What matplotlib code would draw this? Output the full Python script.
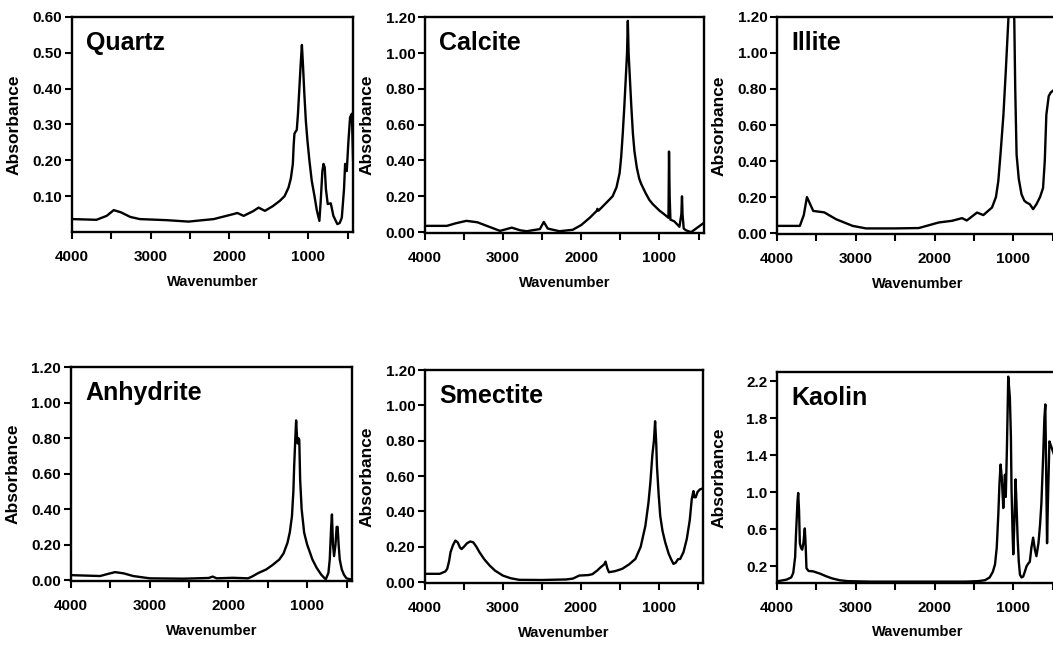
import matplotlib
matplotlib.use("Agg")
import matplotlib.pyplot as plt

plt.rcParams['font.family'] = ['Liberation Sans', 'DejaVu Sans']
plt.rcParams['font.weight'] = 'bold'

quartz_wn = [4000, 3690, 3560, 3470, 3380, 3260, 3140, 2800, 2520, 2200, 1950, 1900, 1820,
             1700, 1630, 1550, 1450, 1360, 1300, 1250, 1220, 1195, 1185, 1175, 1160, 1145,
             1130, 1115, 1095, 1080, 1065, 1050, 1030, 1010, 985, 955, 920, 890, 858, 840,
             820, 805, 790, 775, 752, 713, 680, 630, 600, 573, 545, 531, 510, 490, 468, 445, 430]
quartz_abs = [0.036, 0.034, 0.045, 0.061, 0.055, 0.042, 0.036, 0.033, 0.029, 0.036, 0.05, 0.053, 0.045,
              0.058, 0.068, 0.059, 0.072, 0.087, 0.1, 0.124, 0.15, 0.19, 0.24, 0.274, 0.28, 0.285,
              0.33, 0.39, 0.47, 0.522, 0.46, 0.39, 0.31, 0.256, 0.2, 0.143, 0.1, 0.06, 0.031, 0.09,
              0.17, 0.19, 0.18, 0.12, 0.078, 0.08, 0.045, 0.022, 0.025, 0.04, 0.12, 0.19, 0.17, 0.25,
              0.32, 0.33, 0.2]

calcite_wn = [4000, 3720, 3600, 3470, 3330, 3210, 3040, 2890, 2780, 2700, 2530, 2480, 2430,
              2280, 2110, 2000, 1890, 1800, 1795, 1780, 1700, 1600, 1550, 1510, 1490, 1470,
              1450, 1430, 1415, 1405, 1395, 1380, 1360, 1340, 1320, 1290, 1260, 1235, 1180,
              1130, 1085, 1000, 940, 885, 878, 870, 860, 810, 745, 720, 712, 705, 690, 660,
              595, 500, 438]
calcite_abs = [0.035, 0.035, 0.05, 0.063, 0.055, 0.035, 0.007, 0.025, 0.01, 0.005, 0.017, 0.057, 0.02,
               0.005, 0.013, 0.04, 0.081, 0.12, 0.13, 0.12, 0.155, 0.2, 0.25, 0.33, 0.42, 0.55,
               0.7, 0.87, 1.0, 1.18, 1.0, 0.87, 0.7, 0.55, 0.45, 0.36, 0.3, 0.27, 0.22,
               0.18, 0.156, 0.12, 0.1, 0.08, 0.45, 0.2, 0.07, 0.06, 0.03, 0.1, 0.2, 0.1, 0.02, 0.01,
               0.0, 0.03, 0.05]

illite_wn = [4000, 3710, 3660, 3620, 3540, 3400, 3250, 3040, 2870, 2500, 2200, 1945, 1780,
             1650, 1590, 1460, 1380, 1270, 1220, 1190, 1160, 1125, 1095, 1063, 1040, 1000,
             987, 975, 958, 930, 895, 860, 832, 790, 748, 706, 660, 622, 600, 580, 550, 525,
             470, 430]
illite_abs = [0.04, 0.04, 0.1, 0.2, 0.123, 0.115, 0.077, 0.04, 0.026, 0.026, 0.028, 0.059, 0.068,
              0.083, 0.07, 0.114, 0.1, 0.142, 0.2, 0.289, 0.45, 0.657, 0.9, 1.18, 1.35, 1.35,
              1.18, 0.8, 0.436, 0.3, 0.215, 0.18, 0.17, 0.16, 0.133, 0.16, 0.2, 0.25, 0.4, 0.657,
              0.76, 0.78, 0.8, 0.8]

anhydrite_wn = [4000, 3630, 3530, 3440, 3330, 3210, 3000, 2570, 2250, 2200, 2150, 1945, 1750,
                1700, 1620, 1520, 1440, 1354, 1300, 1250, 1220, 1193, 1175, 1165, 1150, 1140,
                1128, 1120, 1110, 1100, 1089, 1070, 1038, 1000, 960, 933, 880, 820, 764, 730,
                713, 695, 685, 672, 658, 640, 625, 613, 600, 586, 560, 532, 500, 447, 430]
anhydrite_abs = [0.028, 0.023, 0.035, 0.045, 0.038, 0.023, 0.01, 0.008, 0.012, 0.02, 0.01, 0.013, 0.01,
                 0.02, 0.04, 0.06, 0.085, 0.116, 0.15, 0.21, 0.27, 0.36, 0.5, 0.64, 0.8, 0.9,
                 0.8, 0.77, 0.8, 0.79, 0.567, 0.4, 0.267, 0.2, 0.15, 0.116, 0.07, 0.03, 0.004, 0.04,
                 0.116, 0.3, 0.37, 0.2, 0.135, 0.2, 0.3, 0.30, 0.2, 0.116, 0.06, 0.03, 0.01, 0.004, 0.004]

smectite_wn = [4000, 3810, 3740, 3715, 3690, 3672, 3640, 3610, 3580, 3550, 3530, 3500, 3460,
               3420, 3380, 3340, 3300, 3240, 3170, 3100, 3000, 2900, 2790, 2500, 2190, 2100,
               2020, 1900, 1850, 1790, 1744, 1700, 1681, 1660, 1638, 1560, 1468, 1380, 1298,
               1230, 1170, 1130, 1106, 1080, 1060, 1045, 1030, 1021, 1000, 979, 950, 915, 870,
               840, 809, 780, 750, 723, 680, 638, 600, 574, 553, 540, 523, 500, 468, 430]
smectite_abs = [0.047, 0.047, 0.06, 0.075, 0.12, 0.169, 0.21, 0.235, 0.225, 0.195, 0.187, 0.2, 0.22,
                0.23, 0.225, 0.2, 0.169, 0.13, 0.094, 0.065, 0.037, 0.022, 0.013, 0.012, 0.015, 0.02,
                0.037, 0.04, 0.045, 0.065, 0.084, 0.1, 0.116, 0.08, 0.056, 0.062, 0.075, 0.1, 0.131,
                0.2, 0.318, 0.45, 0.562, 0.72, 0.8, 0.91, 0.78, 0.656, 0.5, 0.375, 0.29, 0.225, 0.16,
                0.13, 0.103, 0.11, 0.13, 0.131, 0.17, 0.244, 0.35, 0.47, 0.515, 0.48, 0.48, 0.51,
                0.525, 0.53]

kaolin_wn = [4000, 3880, 3820, 3794, 3770, 3760, 3740, 3731, 3720, 3710, 3695, 3680, 3665,
             3647, 3635, 3626, 3600, 3542, 3450, 3374, 3300, 3206, 3100, 2800, 1610, 1450,
             1360, 1300, 1260, 1232, 1210, 1190, 1175, 1161, 1145, 1127, 1115, 1106, 1095,
             1080, 1064, 1050, 1043, 1030, 1022, 1010, 1000, 985, 971, 960, 945, 930, 915,
             895, 874, 850, 832, 810, 790, 770, 748, 725, 706, 680, 660, 643, 620, 605, 593,
             582, 571, 560, 541, 520, 480, 430]
kaolin_abs = [0.038, 0.056, 0.08, 0.128, 0.3, 0.524, 0.9, 0.993, 0.8, 0.45, 0.4, 0.38, 0.45,
              0.61, 0.4, 0.18, 0.15, 0.146, 0.12, 0.092, 0.07, 0.05, 0.04, 0.035, 0.035, 0.04,
              0.05, 0.08, 0.14, 0.22, 0.4, 0.76, 1.1, 1.3, 1.15, 0.83, 1.0, 1.19, 0.95,
              1.5, 2.25, 2.1, 2.02, 1.6, 1.03, 0.6, 0.33, 0.7, 1.14, 0.9, 0.51, 0.25, 0.11,
              0.08, 0.09, 0.15, 0.2, 0.23, 0.25, 0.4, 0.51, 0.38, 0.31, 0.45, 0.65, 0.88, 1.4, 1.8, 1.95,
              1.2, 0.45, 0.9, 1.55, 1.5, 1.4, 1.3]

names = ["Quartz", "Calcite", "Illite", "Anhydrite", "Smectite", "Kaolin"]
spectra = [(quartz_wn, quartz_abs), (calcite_wn, calcite_abs), (illite_wn, illite_abs),
           (anhydrite_wn, anhydrite_abs), (smectite_wn, smectite_abs), (kaolin_wn, kaolin_abs)]

ylims = [(0, 0.6), (-0.005, 1.2), (-0.005, 1.2), (-0.005, 1.2), (-0.005, 1.2), (0.02, 2.3)]
yticks = [[0.1, 0.2, 0.3, 0.4, 0.5, 0.6],
          [0, 0.2, 0.4, 0.6, 0.8, 1.0, 1.2],
          [0, 0.2, 0.4, 0.6, 0.8, 1.0, 1.2],
          [0, 0.2, 0.4, 0.6, 0.8, 1.0, 1.2],
          [0, 0.2, 0.4, 0.6, 0.8, 1.0, 1.2],
          [0.2, 0.6, 1.0, 1.4, 1.8, 2.2]]
yfmt = ["%.2f", "%.2f", "%.2f", "%.2f", "%.2f", "%.1f"]

# axes boxes in figure fractions [left, bottom, width, height]
boxes = [[0.0684, 0.642, 0.2669, 0.3318],
         [0.4036, 0.6404, 0.265, 0.333],
         [0.7379, 0.6389, 0.267, 0.335],
         [0.0674, 0.1034, 0.2669, 0.330],
         [0.4036, 0.1003, 0.264, 0.3287],
         [0.7379, 0.1003, 0.267, 0.3256]]

fig = plt.figure(figsize=(10.53, 6.48), dpi=100)

for name, (wn, ab), box, yl, yt, fmt in zip(names, spectra, boxes, ylims, yticks, yfmt):
    ax = fig.add_axes(box)
    ax.plot(wn, ab, color='black', lw=1.7, solid_joinstyle='round')
    ax.set_xlim(4000, 430)
    ax.set_ylim(*yl)
    ax.set_xticks([4000, 3000, 2000, 1000])
    ax.set_xticks([3500, 2500, 1500, 500], minor=True)
    ax.set_xticklabels(["4000", "3000", "2000", "1000"])
    ax.set_yticks(yt)
    ax.set_yticklabels([fmt % v for v in yt])
    ax.tick_params(axis='x', which='both', direction='out', length=5, width=1.5,
                   labelsize=11, pad=8)
    ax.tick_params(axis='y', direction='out', length=5, width=1.5, labelsize=11, pad=2)
    for s in ax.spines.values():
        s.set_linewidth(1.7)
    ax.text(0.05, 0.935, name, transform=ax.transAxes, fontsize=18, fontweight='bold',
            va='top', ha='left')
    ax.set_xlabel("Wavenumber", fontsize=10.5, fontweight='bold')
    ax.set_ylabel("Absorbance", fontsize=12.5, fontweight='bold')
    ax.xaxis.set_label_coords(0.5, -0.2)
    ax.yaxis.set_label_coords(-0.18, 0.5)

fig.savefig("out.png", dpi=100)
